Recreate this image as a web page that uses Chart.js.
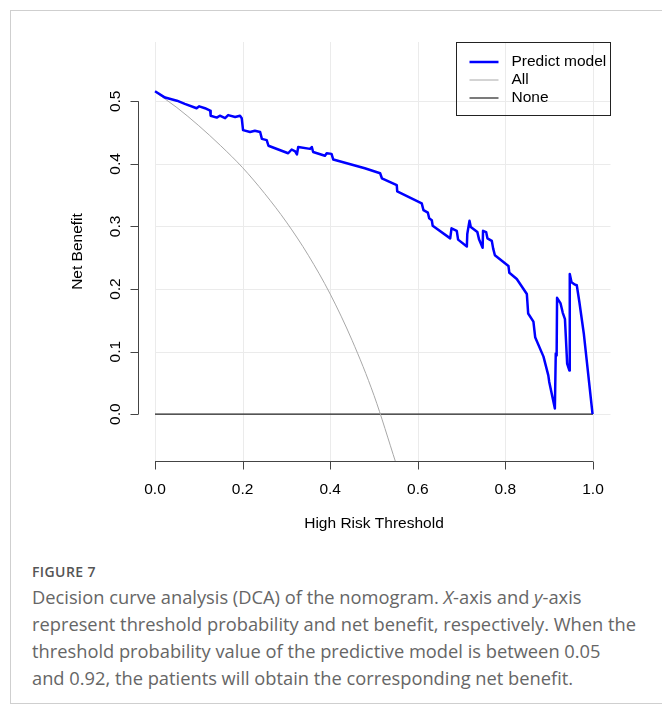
<!DOCTYPE html>
<html>
<head>
<meta charset="utf-8">
<script src="https://cdn.jsdelivr.net/npm/chart.js@4.4.1/dist/chart.umd.min.js"></script>
<style>
  html, body { margin: 0; padding: 0; background: #fff; }
  body { width: 662px; height: 715px; position: relative; overflow: hidden; }
  #frame {
    position: absolute; left: 10px; top: 10px; width: 660px; height: 692px;
    border-left: 1px solid #cfcfcf; border-top: 1px solid #cfcfcf; border-bottom: 1px solid #cfcfcf;
  }
  #c { position: absolute; left: 0; top: 0; }
  #figlabel {
    position: absolute; left: 32px; top: 564px;
    font: 600 14px "Open Sans", sans-serif; color: #555; line-height: 16px; letter-spacing: 0.4px;
  }
  #caption {
    position: absolute; left: 32px; top: 583px; width: 625px;
    font: 18.3px "Open Sans", sans-serif; color: #666; line-height: 27px; white-space: nowrap;
  }
</style>
</head>
<body>
<div id="frame"></div>
<canvas id="c" width="662" height="540"></canvas>
<div id="figlabel">FIGURE 7</div>
<div id="caption">Decision curve analysis (DCA) of the nomogram. <i>X</i>-axis and <i>y</i>-axis<br>represent threshold probability and net benefit, respectively. When the<br>threshold probability value of the predictive model is between 0.05<br>and 0.92, the patients will obtain the corresponding net benefit.</div>
<script>
// threshold / net benefit
const modelX = [0.000, 0.023, 0.050, 0.068, 0.095, 0.101, 0.114, 0.126, 0.127, 0.141,
  0.148, 0.160, 0.167, 0.183, 0.194, 0.198, 0.201, 0.217, 0.228, 0.240,
  0.244, 0.255, 0.259, 0.304, 0.312, 0.320, 0.324, 0.327, 0.354, 0.358,
  0.361, 0.388, 0.392, 0.403, 0.407, 0.479, 0.514, 0.518, 0.552, 0.553,
  0.609, 0.613, 0.623, 0.626, 0.632, 0.634, 0.674, 0.677, 0.689, 0.692,
  0.712, 0.713, 0.718, 0.721, 0.736, 0.740, 0.748, 0.749, 0.756, 0.759,
  0.769, 0.772, 0.776, 0.807, 0.809, 0.826, 0.849, 0.852, 0.864, 0.868,
  0.887, 0.898, 0.900, 0.913, 0.915, 0.917, 0.918, 0.926, 0.931, 0.936,
  0.941, 0.946, 0.947, 0.951, 0.959, 0.963, 0.969, 0.979, 0.986, 0.999];
const modelY = [0.516, 0.506, 0.501, 0.496, 0.489, 0.492, 0.489, 0.485, 0.477, 0.474,
  0.477, 0.473, 0.478, 0.475, 0.477, 0.473, 0.454, 0.451, 0.453, 0.451,
  0.440, 0.438, 0.429, 0.417, 0.423, 0.420, 0.415, 0.427, 0.424, 0.427,
  0.419, 0.413, 0.417, 0.416, 0.407, 0.393, 0.385, 0.377, 0.366, 0.356,
  0.337, 0.326, 0.322, 0.313, 0.310, 0.301, 0.281, 0.297, 0.293, 0.279,
  0.268, 0.288, 0.309, 0.299, 0.291, 0.279, 0.266, 0.293, 0.291, 0.281,
  0.277, 0.265, 0.254, 0.237, 0.226, 0.216, 0.192, 0.161, 0.148, 0.123,
  0.092, 0.062, 0.052, 0.009, 0.097, 0.094, 0.186, 0.177, 0.162, 0.152,
  0.081, 0.070, 0.224, 0.211, 0.207, 0.206, 0.179, 0.129, 0.084, 0.000];

const allX = [0, 0.05, 0.1, 0.15, 0.2, 0.25, 0.3, 0.35, 0.4, 0.45, 0.5, 0.55];
const allY = [0.515, 0.490, 0.461, 0.429, 0.394, 0.353, 0.307, 0.254, 0.192, 0.118, 0.030, -0.078];

const noneX = [0, 1];
const noneY = [0, 0];

const seriesNames = ['Predict model', 'All', 'None'];
const xTicks = [0, 0.2, 0.4, 0.6, 0.8, 1.0];
const xTickLabels = ['0.0', '0.2', '0.4', '0.6', '0.8', '1.0'];
const yTicks = [0, 0.1, 0.2, 0.3, 0.4, 0.5];
const yTickLabels = ['0.0', '0.1', '0.2', '0.3', '0.4', '0.5'];

const pts = (xs, ys) => xs.map((x, i) => ({ x: x, y: ys[i] }));
const FONT = '15.5px "Liberation Sans", Arial, sans-serif';

// R-style base graphics: grid, axes, titles and boxed legend
const rAxes = {
  id: 'rAxes',
  beforeDatasetsDraw(chart) {
    const ctx = chart.ctx;
    const area = chart.chartArea;
    const xs = chart.scales.x, ys = chart.scales.y;
    ctx.save();
    ctx.strokeStyle = '#ebebeb';
    ctx.lineWidth = 1;
    xTicks.forEach(v => {
      const px = Math.round(xs.getPixelForValue(v)) + 0.5;
      ctx.beginPath(); ctx.moveTo(px, area.top); ctx.lineTo(px, area.bottom); ctx.stroke();
    });
    yTicks.forEach(v => {
      const py = Math.round(ys.getPixelForValue(v)) + 0.5;
      ctx.beginPath(); ctx.moveTo(xs.getPixelForValue(0), py); ctx.lineTo(area.right, py); ctx.stroke();
    });
    ctx.restore();
  },
  afterDraw(chart) {
    const ctx = chart.ctx;
    const area = chart.chartArea;
    const xs = chart.scales.x, ys = chart.scales.y;
    ctx.save();
    ctx.strokeStyle = '#444';
    ctx.lineWidth = 1;
    ctx.fillStyle = '#000';
    ctx.font = FONT;

    // x axis
    const by = Math.round(area.bottom) + 0.5;
    ctx.beginPath();
    ctx.moveTo(xs.getPixelForValue(xTicks[0]), by);
    ctx.lineTo(xs.getPixelForValue(xTicks[xTicks.length - 1]), by);
    xTicks.forEach(v => {
      const px = Math.round(xs.getPixelForValue(v)) + 0.5;
      ctx.moveTo(px, by); ctx.lineTo(px, by + 8);
    });
    ctx.stroke();
    ctx.textAlign = 'center';
    ctx.textBaseline = 'middle';
    xTicks.forEach((v, i) => ctx.fillText(xTickLabels[i], xs.getPixelForValue(v), by + 28));
    ctx.fillText('High Risk Threshold', (area.left + area.right) / 2, by + 62);

    // y axis
    const lx = Math.round(area.left) + 0.5;
    ctx.beginPath();
    ctx.moveTo(lx, ys.getPixelForValue(yTicks[0]));
    ctx.lineTo(lx, ys.getPixelForValue(yTicks[yTicks.length - 1]));
    yTicks.forEach(v => {
      const py = Math.round(ys.getPixelForValue(v)) + 0.5;
      ctx.moveTo(lx, py); ctx.lineTo(lx - 8, py);
    });
    ctx.stroke();
    yTicks.forEach((v, i) => {
      ctx.save();
      ctx.translate(lx - 23, ys.getPixelForValue(v));
      ctx.rotate(-Math.PI / 2);
      ctx.fillText(yTickLabels[i], 0, 0);
      ctx.restore();
    });
    ctx.save();
    ctx.translate(lx - 61, (area.top + area.bottom) / 2);
    ctx.rotate(-Math.PI / 2);
    ctx.fillText('Net Benefit', 0, 0);
    ctx.restore();

    // legend
    const lgRight = Math.round(area.right) - 0.5;
    const lgTop = Math.round(area.top) + 0.5;
    const lgW = 154, lgH = 73;
    ctx.strokeStyle = '#222';
    ctx.strokeRect(lgRight - lgW, lgTop, lgW, lgH);
    ctx.textAlign = 'left';
    chart.data.datasets.forEach((ds, i) => {
      const cy = lgTop + 19.5 + i * 18;
      ctx.strokeStyle = ds.borderColor;
      ctx.lineWidth = ds.borderWidth;
      ctx.beginPath();
      ctx.moveTo(lgRight - lgW + 13, cy);
      ctx.lineTo(lgRight - lgW + 42, cy);
      ctx.stroke();
      ctx.fillStyle = '#000';
      ctx.fillText(ds.label, lgRight - lgW + 55, cy);
    });
    ctx.restore();
  }
};

new Chart(document.getElementById('c'), {
  type: 'line',
  data: {
    datasets: [
      { label: seriesNames[0], data: pts(modelX, modelY), borderColor: '#0000ff', borderWidth: 2.5 },
      { label: seriesNames[1], data: pts(allX, allY), borderColor: '#a8a8a8', borderWidth: 1, cubicInterpolationMode: 'monotone' },
      { label: seriesNames[2], data: pts(noneX, noneY), borderColor: '#222222', borderWidth: 1.2 }
    ]
  },
  options: {
    responsive: false,
    animation: false,
    layout: { padding: { left: 137.5, right: 51.5, top: 42, bottom: 79 } },
    elements: { point: { radius: 0 }, line: { tension: 0, borderJoinStyle: 'round' } },
    scales: {
      x: { type: 'linear', display: false, min: -0.04, max: 1.04 },
      y: { type: 'linear', display: false, min: -0.0748, max: 0.5948 }
    },
    plugins: { legend: { display: false }, tooltip: { enabled: false } }
  },
  plugins: [rAxes]
});
</script>
</body>
</html>
